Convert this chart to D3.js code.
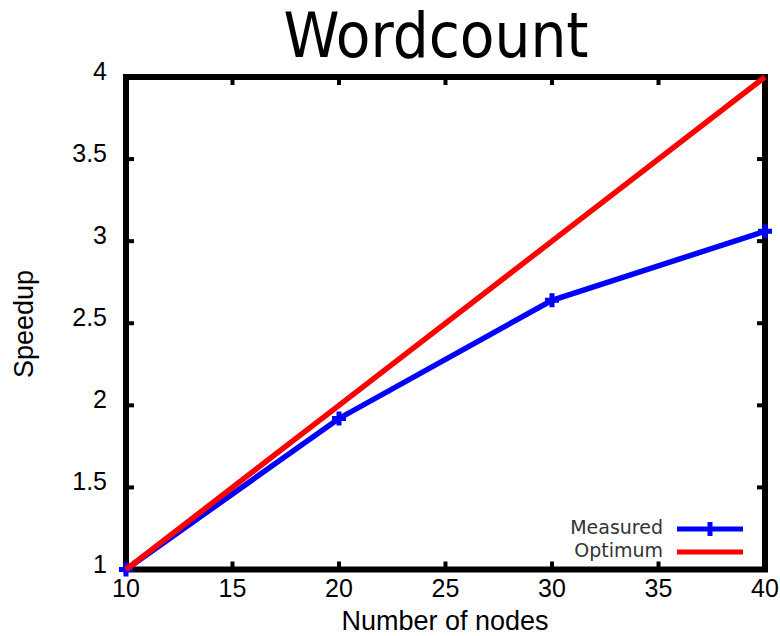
<!DOCTYPE html>
<html>
<head>
<meta charset="utf-8">
<script src="https://cdn.jsdelivr.net/npm/d3@7"></script>
<style>
  body { margin: 0; background: #fff; }
  text { font-family: "Liberation Sans", sans-serif; }
</style>
</head>
<body>
<svg id="chart" width="780" height="636"></svg>
<script>
var nodes = [10, 20, 30, 40];
var measured = [1, 1.92, 2.64, 3.06];
var optimum = [1, 2, 3, 4];
var xTicks = [10, 15, 20, 25, 30, 35, 40];
var yTicks = [1, 1.5, 2, 2.5, 3, 3.5, 4];

var svg = d3.select('#chart');
var plotLeft = 126, plotRight = 765, plotTop = 77, plotBottom = 569.5;

var x = d3.scaleLinear().domain([10, 40]).range([plotLeft, plotRight]);
var y = d3.scaleLinear().domain([1, 4]).range([plotBottom, plotTop]);

// title
svg.append('text')
	.attr('x', 436).attr('y', 57)
	.attr('text-anchor', 'middle')
	.style('font-family', '"DejaVu Sans Condensed", "DejaVu Sans", sans-serif')
	.style('font-size', '63px')
	.text('Wordcount');

// ticks (inside, both sides)
var g = svg.append('g');
xTicks.forEach(function(t) {
	g.append('line').attr('x1', x(t)).attr('x2', x(t)).attr('y1', plotBottom).attr('y2', plotBottom - 8)
		.attr('stroke', '#000').attr('stroke-width', 4);
	g.append('line').attr('x1', x(t)).attr('x2', x(t)).attr('y1', plotTop).attr('y2', plotTop + 8)
		.attr('stroke', '#000').attr('stroke-width', 4);
	g.append('text').attr('x', x(t)).attr('y', 597)
		.attr('text-anchor', 'middle')
		.style('font-size', '25px')
		.text(t);
});
yTicks.forEach(function(t) {
	g.append('line').attr('x1', plotLeft).attr('x2', plotLeft + 8).attr('y1', y(t)).attr('y2', y(t))
		.attr('stroke', '#000').attr('stroke-width', 4);
	g.append('line').attr('x1', plotRight).attr('x2', plotRight - 8).attr('y1', y(t)).attr('y2', y(t))
		.attr('stroke', '#000').attr('stroke-width', 4);
	g.append('text').attr('x', 107).attr('y', y(t) + 3)
		.attr('text-anchor', 'end')
		.style('font-size', '25px')
		.text(t);
});

// frame
svg.append('rect')
	.attr('x', plotLeft).attr('y', plotTop)
	.attr('width', plotRight - plotLeft).attr('height', plotBottom - plotTop)
	.attr('fill', 'none').attr('stroke', '#000').attr('stroke-width', 6);

// axis labels
svg.append('text')
	.attr('x', 445).attr('y', 630)
	.attr('text-anchor', 'middle')
	.style('font-size', '27px')
	.text('Number of nodes');
svg.append('text')
	.attr('transform', 'translate(33,324) rotate(-90)')
	.attr('text-anchor', 'middle')
	.style('font-size', '27px')
	.text('Speedup');

// series
var line = d3.line();
var measuredPts = nodes.map(function(n, i) { return [x(n), y(measured[i])]; });
var optimumPts = nodes.map(function(n, i) { return [x(n), y(optimum[i])]; });

svg.append('path').attr('d', line(measuredPts))
	.attr('fill', 'none').attr('stroke', '#0000ff').attr('stroke-width', 5.5);
measuredPts.forEach(function(p) {
	svg.append('path')
		.attr('d', 'M' + (p[0] - 7) + ',' + p[1] + 'h14M' + p[0] + ',' + (p[1] - 7) + 'v14')
		.attr('stroke', '#0000ff').attr('stroke-width', 5);
});
svg.append('path').attr('d', line(optimumPts))
	.attr('fill', 'none').attr('stroke', '#ff0000').attr('stroke-width', 5.5);

// legend
var legend = [
	{ name: 'Measured', color: '#0000ff', marker: true },
	{ name: 'Optimum', color: '#ff0000', marker: false }
];
legend.forEach(function(d, i) {
	var ly = 529 + i * 23;
	svg.append('text').attr('x', 663).attr('y', ly + 4.5)
		.attr('text-anchor', 'end')
		.style('font-family', '"DejaVu Sans", sans-serif')
		.style('font-size', '19px')
		.style('fill', '#333')
		.text(d.name);
	svg.append('line').attr('x1', 677).attr('x2', 743).attr('y1', ly).attr('y2', ly)
		.attr('stroke', d.color).attr('stroke-width', 5);
	if (d.marker)
		svg.append('path').attr('d', 'M710,' + (ly - 7) + 'v14')
			.attr('stroke', d.color).attr('stroke-width', 5);
});
</script>
</body>
</html>
